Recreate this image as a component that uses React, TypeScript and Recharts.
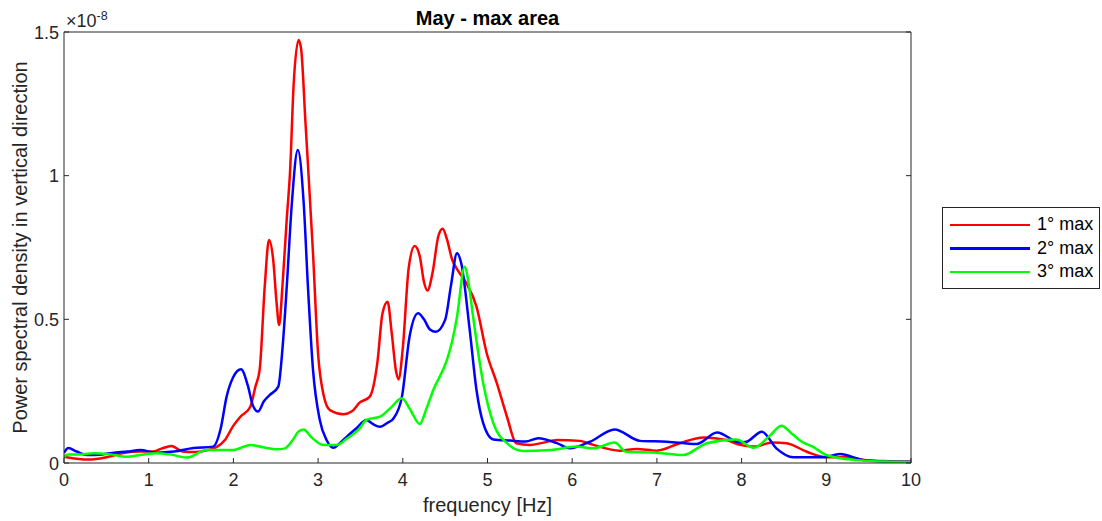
import React from 'react';
import { LineChart, Line, XAxis, YAxis, Label, Legend } from 'recharts';

// frequency [Hz] / PSD (x 1e-8)
const redFreq = [0, 0.15, 0.3, 0.5, 0.7, 0.9, 1.05, 1.15, 1.27, 1.4, 1.55, 1.7, 1.8, 1.9, 2.0, 2.08, 2.2, 2.26, 2.31, 2.37, 2.42, 2.47, 2.51, 2.54, 2.58, 2.63, 2.67, 2.71, 2.77, 2.8, 2.85, 2.94, 3.0, 3.06, 3.14, 3.3, 3.4, 3.49, 3.61, 3.7, 3.76, 3.82, 3.87, 3.92, 3.95, 4.0, 4.07, 4.14, 4.2, 4.25, 4.29, 4.35, 4.42, 4.47, 4.52, 4.58, 4.65, 4.75, 4.87, 4.99, 5.11, 5.23, 5.34, 5.5, 5.65, 5.82, 6.09, 6.25, 6.56, 6.76, 7.0, 7.27, 7.55, 7.82, 7.98, 8.14, 8.37, 8.53, 8.77, 9.0, 9.24, 9.47, 9.75, 10];
const redPsd = [0.022, 0.015, 0.012, 0.02, 0.035, 0.04, 0.04, 0.05, 0.059, 0.04, 0.038, 0.045, 0.055, 0.08, 0.13, 0.16, 0.196, 0.266, 0.324, 0.614, 0.776, 0.707, 0.557, 0.48, 0.62, 0.85, 1.02, 1.31, 1.472, 1.44, 1.19, 0.73, 0.38, 0.243, 0.184, 0.17, 0.18, 0.21, 0.231, 0.35, 0.52, 0.561, 0.45, 0.32, 0.291, 0.4, 0.68, 0.755, 0.72, 0.63, 0.6, 0.66, 0.79, 0.815, 0.78, 0.71, 0.67, 0.626, 0.544, 0.383, 0.278, 0.161, 0.069, 0.063, 0.07, 0.08, 0.077, 0.063, 0.043, 0.049, 0.043, 0.069, 0.089, 0.08, 0.063, 0.057, 0.071, 0.069, 0.039, 0.02, 0.02, 0.01, 0.006, 0.004];

const blueFreq = [0, 0.05, 0.15, 0.27, 0.45, 0.57, 0.75, 0.9, 1.09, 1.3, 1.53, 1.76, 1.85, 1.92, 2.0, 2.09, 2.17, 2.23, 2.29, 2.36, 2.43, 2.53, 2.58, 2.63, 2.69, 2.76, 2.83, 2.88, 2.94, 3.02, 3.1, 3.18, 3.26, 3.34, 3.45, 3.57, 3.65, 3.73, 3.82, 3.89, 3.99, 4.08, 4.18, 4.25, 4.32, 4.39, 4.5, 4.57, 4.64, 4.69, 4.79, 4.87, 4.95, 5.07, 5.27, 5.45, 5.6, 5.82, 5.97, 6.21, 6.5, 6.8, 7.12, 7.47, 7.71, 7.98, 8.06, 8.24, 8.41, 8.61, 8.96, 9.16, 9.44, 9.75, 10];
const bluePsd = [0.035, 0.052, 0.04, 0.028, 0.03, 0.035, 0.04, 0.045, 0.036, 0.04, 0.052, 0.057, 0.12, 0.231, 0.3, 0.326, 0.27, 0.2, 0.179, 0.215, 0.237, 0.266, 0.4, 0.614, 0.904, 1.089, 0.904, 0.614, 0.324, 0.15, 0.08, 0.053, 0.07, 0.092, 0.12, 0.15, 0.135, 0.126, 0.14, 0.155, 0.231, 0.44, 0.521, 0.5, 0.465, 0.457, 0.498, 0.62, 0.73, 0.695, 0.463, 0.254, 0.138, 0.082, 0.078, 0.075, 0.086, 0.069, 0.051, 0.074, 0.117, 0.077, 0.074, 0.066, 0.106, 0.071, 0.074, 0.109, 0.051, 0.02, 0.02, 0.031, 0.01, 0.005, 0.004];

const greenFreq = [0, 0.05, 0.2, 0.35, 0.55, 0.74, 0.9, 1.09, 1.25, 1.45, 1.68, 2.0, 2.2, 2.35, 2.51, 2.6, 2.7, 2.77, 2.83, 2.92, 3.06, 3.22, 3.34, 3.49, 3.57, 3.73, 3.85, 3.99, 4.08, 4.2, 4.28, 4.36, 4.52, 4.58, 4.64, 4.73, 4.78, 4.83, 4.95, 5.07, 5.23, 5.42, 5.73, 6.05, 6.25, 6.5, 6.64, 7.0, 7.31, 7.59, 7.94, 8.14, 8.34, 8.47, 8.6, 8.73, 8.84, 9.0, 9.36, 9.7, 10];
const greenPsd = [0.022, 0.03, 0.03, 0.034, 0.03, 0.022, 0.028, 0.034, 0.03, 0.019, 0.045, 0.045, 0.063, 0.055, 0.048, 0.05, 0.08, 0.11, 0.117, 0.09, 0.063, 0.063, 0.085, 0.12, 0.15, 0.161, 0.19, 0.225, 0.19, 0.136, 0.19, 0.254, 0.358, 0.42, 0.509, 0.683, 0.62, 0.509, 0.277, 0.138, 0.069, 0.042, 0.045, 0.057, 0.051, 0.071, 0.039, 0.036, 0.028, 0.069, 0.082, 0.053, 0.097, 0.13, 0.1, 0.071, 0.057, 0.028, 0.01, 0.005, 0.003];

const freqTicks = [0, 1, 2, 3, 4, 5, 6, 7, 8, 9, 10];
const psdTicks = [0, 0.5, 1, 1.5];

const seriesNames = ['1° max', '2° max', '3° max'];
const seriesColors = ['#ff0000', '#0000ff', '#00ff00'];

const AXIS = '#262626';
const FONT = '"Liberation Sans", Arial, Helvetica, sans-serif';

const toRows = (fs: number[], vs: number[]) => fs.map((f, i) => ({ f, psd: vs[i] }));
const redData = toRows(redFreq, redPsd);
const blueData = toRows(blueFreq, bluePsd);
const greenData = toRows(greenFreq, greenPsd);

// ticks point into the plot box, matlab style
const BottomTick = (props: any) => {
  const { x, y, payload } = props;
  return (
    <g>
      <line x1={x} y1={y} x2={x} y2={y - 5} stroke={AXIS} />
      <text x={x} y={y + 23} textAnchor="middle" fontSize={18} fontFamily={FONT} fill={AXIS}>
        {payload.value}
      </text>
    </g>
  );
};

const TopTick = (props: any) => {
  const { x, y } = props;
  return <line x1={x} y1={y} x2={x} y2={y + 5} stroke={AXIS} />;
};

const LeftTick = (props: any) => {
  const { x, y, payload } = props;
  return (
    <g>
      <line x1={x} y1={y} x2={x + 5} y2={y} stroke={AXIS} />
      <text x={x - 5} y={y} dy={6.5} textAnchor="end" fontSize={18} fontFamily={FONT} fill={AXIS}>
        {String(payload.value)}
      </text>
    </g>
  );
};

const RightTick = (props: any) => {
  const { x, y } = props;
  return <line x1={x} y1={y} x2={x - 5} y2={y} stroke={AXIS} />;
};

const YTitle = (props: any) => {
  const { viewBox } = props;
  const cy = viewBox.y + viewBox.height / 2;
  return (
    <g fontFamily={FONT} fill={AXIS}>
      <text x={26.5} y={cy} transform={`rotate(-90, 26.5, ${cy})`} textAnchor="middle" fontSize={20}>
        Power spectral density in vertical direction
      </text>
      <text x={viewBox.x + viewBox.width + 2} y={27} fontSize={18}>
        ×10<tspan dy={-7} fontSize={12.5}>-8</tspan>
      </text>
    </g>
  );
};

const XTitle = (props: any) => {
  const { viewBox } = props;
  return (
    <text x={viewBox.x + viewBox.width / 2} y={512} textAnchor="middle" fontSize={20} fontFamily={FONT} fill={AXIS}>
      frequency [Hz]
    </text>
  );
};

const PlotTitle = (props: any) => {
  const { viewBox } = props;
  return (
    <text x={viewBox.x + viewBox.width / 2} y={25} textAnchor="middle" fontSize={20} fontWeight="bold" fontFamily={FONT} fill="#000">
      May - max area
    </text>
  );
};

const LegendBox = () => (
  <div
    style={{
      width: 158,
      height: 82,
      boxSizing: 'border-box',
      border: `1px solid ${AXIS}`,
      background: '#fff',
      paddingTop: 5,
      fontFamily: FONT,
      fontSize: 18,
      color: '#000',
    }}
  >
    {seriesNames.map((name, i) => (
      <div key={name} style={{ height: 23.5, display: 'flex', alignItems: 'center' }}>
        <div style={{ width: 80, height: 2.5, marginLeft: 7, background: seriesColors[i] }} />
        <span style={{ marginLeft: 7, whiteSpace: 'nowrap' }}>{name}</span>
      </div>
    ))}
  </div>
);

export default function App() {
  return (
    <>
      {/* the figure fills the whole window, like the matlab export */}
      <style>{'body { margin: 0; }'}</style>
      <LineChart width={1102} height={521} margin={{ top: 31, right: 190, bottom: 0, left: 0 }}>
        <XAxis
          dataKey="f"
          type="number"
          domain={[0, 10]}
          ticks={freqTicks}
          allowDataOverflow
          height={58}
          tickSize={0}
          tickMargin={0}
          tickLine={false}
          tick={<BottomTick />}
          axisLine={{ stroke: AXIS }}
        >
          <Label content={XTitle} />
        </XAxis>
        <XAxis
          xAxisId="top"
          orientation="top"
          type="number"
          domain={[0, 10]}
          ticks={freqTicks}
          allowDataOverflow
          height={1}
          tickSize={0}
          tickMargin={0}
          tickLine={false}
          tick={<TopTick />}
          axisLine={{ stroke: AXIS }}
        >
          <Label content={PlotTitle} />
        </XAxis>
        <YAxis
          type="number"
          domain={[0, 1.5]}
          ticks={psdTicks}
          allowDataOverflow
          width={64}
          tickSize={0}
          tickMargin={0}
          tickLine={false}
          tick={<LeftTick />}
          axisLine={{ stroke: AXIS }}
        >
          <Label content={YTitle} />
        </YAxis>
        <YAxis
          yAxisId="right"
          orientation="right"
          type="number"
          domain={[0, 1.5]}
          ticks={psdTicks}
          allowDataOverflow
          width={1}
          tickSize={0}
          tickMargin={0}
          tickLine={false}
          tick={<RightTick />}
          axisLine={{ stroke: AXIS }}
        />
        <Line data={redData} dataKey="psd" name={seriesNames[0]} type="monotone" stroke={seriesColors[0]} strokeWidth={2.5} dot={false} isAnimationActive={false} />
        <Line data={blueData} dataKey="psd" name={seriesNames[1]} type="monotone" stroke={seriesColors[1]} strokeWidth={2.5} dot={false} isAnimationActive={false} />
        <Line data={greenData} dataKey="psd" name={seriesNames[2]} type="monotone" stroke={seriesColors[2]} strokeWidth={2.5} dot={false} isAnimationActive={false} />
        <Legend
          layout="vertical"
          align="center"
          verticalAlign="middle"
          wrapperStyle={{ left: 942, top: 207, width: 158 }}
          content={() => <LegendBox />}
        />
      </LineChart>
    </>
  );
}
